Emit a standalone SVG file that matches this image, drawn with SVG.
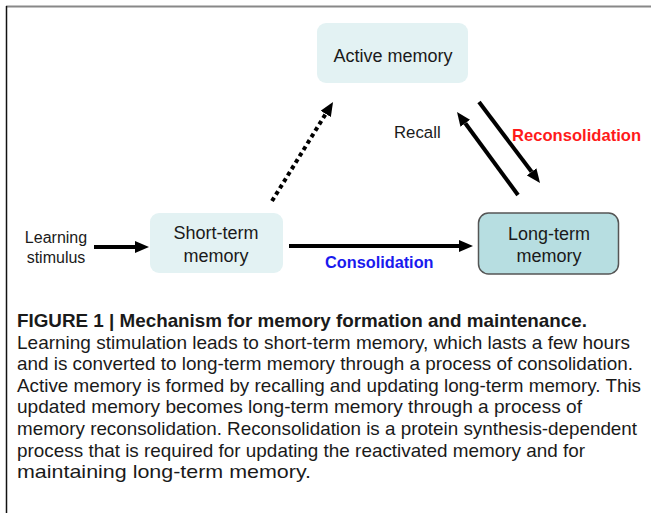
<svg xmlns="http://www.w3.org/2000/svg" width="651" height="513" viewBox="0 0 651 513">
<style>
.t{font-family:"Liberation Sans",Arial,sans-serif;fill:#1a1a1a;}
.box{fill:#e3f2f3;}
.ltm{fill:#b7dee1;stroke:#555;stroke-width:1.5;}
.ln{stroke:#000;stroke-width:4;fill:none;}
.cap{font-family:"Liberation Sans",Arial,sans-serif;fill:#1a1a1a;font-size:18.5px;}
</style>
<defs>
<marker id="ah" viewBox="0 0 14 12" refX="0" refY="6" markerWidth="14" markerHeight="12" orient="auto" markerUnits="userSpaceOnUse">
<path d="M0,0 L14,6 L0,12 z" fill="#000"/>
</marker>
</defs>
<rect width="651" height="513" fill="#fff"/>
<line x1="6" y1="6.5" x2="651" y2="6.5" stroke="#888" stroke-width="2"/>
<line x1="6.5" y1="6" x2="6.5" y2="513" stroke="#111" stroke-width="1.5"/>

<g id="active-memory">
<rect class="box" x="317" y="23" width="151" height="60" rx="9"/>
<text class="t" x="393" y="62" font-size="18" text-anchor="middle">Active memory</text>
</g>
<g id="short-term">
<rect class="box" x="150" y="213" width="133" height="60" rx="9"/>
<text class="t" x="216" y="239" font-size="18" text-anchor="middle">Short-term</text>
<text class="t" x="216" y="262" font-size="18" text-anchor="middle">memory</text>
</g>
<g id="long-term">
<rect class="ltm" x="478.5" y="213" width="140" height="61" rx="10"/>
<text class="t" x="549" y="240" font-size="18" text-anchor="middle">Long-term</text>
<text class="t" x="549" y="262" font-size="18" text-anchor="middle">memory</text>
</g>
<g id="learning-stimulus">
<text class="t" x="56" y="243" font-size="16" text-anchor="middle">Learning</text>
<text class="t" x="56" y="263" font-size="16" text-anchor="middle">stimulus</text>
</g>

<g id="connectors">
<line class="ln" x1="94" y1="247" x2="135" y2="247" marker-end="url(#ah)"/>
<line class="ln" x1="289" y1="246" x2="459" y2="246" marker-end="url(#ah)"/>
<line class="ln" x1="272" y1="201" x2="325.7" y2="113.9" stroke-dasharray="4 3.5" marker-end="url(#ah)"/>
<line class="ln" x1="518" y1="195" x2="465.3" y2="123.3" marker-end="url(#ah)"/>
<line class="ln" x1="479" y1="102" x2="531.6" y2="171.8" marker-end="url(#ah)"/>
<text class="t" x="394" y="138" font-size="16.8">Recall</text>
<text x="512" y="141" font-family="Liberation Sans,Arial,sans-serif" font-weight="bold" font-size="16.6" fill="#ff1a1a">Reconsolidation</text>
<text x="325" y="268" font-family="Liberation Sans,Arial,sans-serif" font-weight="bold" font-size="16.3" fill="#1a1aee">Consolidation</text>
</g>

<g id="caption">
<text class="cap" x="17" y="327" font-weight="bold" textLength="570" lengthAdjust="spacingAndGlyphs">FIGURE 1 | Mechanism for memory formation and maintenance.</text>
<text class="cap" x="17" y="348.5" textLength="613" lengthAdjust="spacingAndGlyphs">Learning stimulation leads to short-term memory, which lasts a few hours</text>
<text class="cap" x="17" y="370" textLength="616" lengthAdjust="spacingAndGlyphs">and is converted to long-term memory through a process of consolidation.</text>
<text class="cap" x="17" y="391.5" textLength="624" lengthAdjust="spacingAndGlyphs">Active memory is formed by recalling and updating long-term memory. This</text>
<text class="cap" x="17" y="413" textLength="565" lengthAdjust="spacingAndGlyphs">updated memory becomes long-term memory through a process of</text>
<text class="cap" x="17" y="435" textLength="620" lengthAdjust="spacingAndGlyphs">memory reconsolidation. Reconsolidation is a protein synthesis-dependent</text>
<text class="cap" x="17" y="456.5" textLength="568" lengthAdjust="spacingAndGlyphs">process that is required for updating the reactivated memory and for</text>
<text class="cap" x="17" y="478" textLength="294" lengthAdjust="spacingAndGlyphs">maintaining long-term memory.</text>
</g>
</svg>
